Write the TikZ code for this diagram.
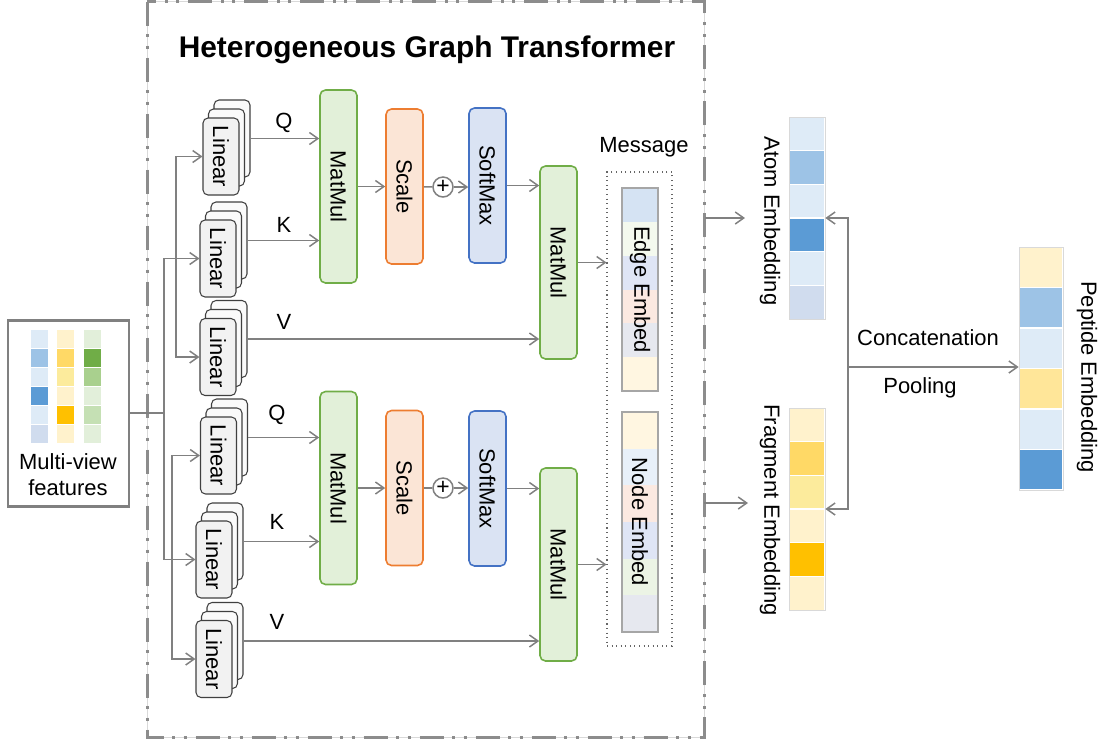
\documentclass[tikz,border=0pt]{standalone}
\usepackage{fontspec}
\setmainfont{Liberation Sans}
\usepackage{tikz}
\usetikzlibrary{arrows.meta}
\usepackage{xcolor}

% colores
\definecolor{arrgray}{HTML}{808080}
\definecolor{mmfill}{HTML}{E2F0D9}
\definecolor{mmline}{HTML}{70AD47}
\definecolor{scfill}{HTML}{FBE5D6}
\definecolor{scline}{HTML}{ED7D31}
\definecolor{smfill}{HTML}{DAE3F3}
\definecolor{smline}{HTML}{4472C4}
\definecolor{cA}{HTML}{DEEBF7}
\definecolor{cB}{HTML}{9DC3E6}
\definecolor{cC}{HTML}{5B9BD5}
\definecolor{cD}{HTML}{D0DCEE}
\definecolor{yA}{HTML}{FFF2CC}
\definecolor{yB}{HTML}{FFD966}
\definecolor{yC}{HTML}{FCEB9C}
\definecolor{yD}{HTML}{FFC000}
\definecolor{yE}{HTML}{FFE699}
\definecolor{gA}{HTML}{E2EFDA}
\definecolor{gB}{HTML}{70AD47}
\definecolor{gC}{HTML}{A9D08E}
\definecolor{gD}{HTML}{C5E0B4}
\definecolor{mBlue}{HTML}{D5E3F3}
\definecolor{mWhite}{HTML}{F4F9EE}
\definecolor{mLav}{HTML}{DFE5F5}
\definecolor{mPeach}{HTML}{FBE9E1}
\definecolor{mGray}{HTML}{E6E8EF}
\definecolor{mCream}{HTML}{FFF6E1}
\definecolor{mLblue}{HTML}{E8F0F9}
\definecolor{mGreen}{HTML}{ECF4E5}

\tikzset{
	every node/.style={font=\fontsize{12.5}{15}\selectfont},
	conn/.style={draw=arrgray, line width=0.85pt},
	flow/.style={conn, ->},
	linbox/.style={draw=black!75, fill=black!5, rounded corners=1mm, line width=0.6pt,
		minimum width=7.2mm, minimum height=15.4mm, inner sep=0pt},
	opbox/.style={rounded corners=1.1mm, line width=0.9pt, minimum width=7.4mm, inner sep=0pt},
	mmbox/.style={opbox, draw=mmline, fill=mmfill, minimum height=38.6mm},
	scbox/.style={opbox, draw=scline, fill=scfill, minimum height=31mm},
	smbox/.style={opbox, draw=smline, fill=smfill, minimum height=31mm},
	plusnode/.style={circle, draw=arrgray, line width=0.85pt, fill=white, minimum size=4mm,
		inner sep=0pt, text=black, font=\fontsize{13}{13}\selectfont},
	cellcol/.style={draw=black!15, line width=0.4pt, minimum width=7.2mm, inner sep=0pt},
	embcol/.style={draw=black!35, line width=0.9pt, minimum width=7.2mm, inner sep=0pt},
	hgtframe/.style={draw=black!45, line width=0.6mm,
		dash pattern=on 4.8mm off 1.7mm on 0.6mm off 1.7mm on 0.6mm off 1.8mm},
}

\begin{document}
\begin{tikzpicture}[x=0.2mm,y=-0.2mm,>={Straight Barb[length=1.7mm,width=2.4mm]}]
		\useasboundingbox (0,0) rectangle (1102,745);
		% marco
		\draw[black!15, line width=0.3pt] (147,1.5) rectangle (704,737);
		\draw[hgtframe] (147,1.5) rectangle (704,737);
		\node[font=\bfseries\fontsize{17}{20}\selectfont] (title) at (427,50) {Heterogeneous Graph Transformer};
		
		% entrada
		\node[draw=black!50, line width=1.7pt, minimum width=24.2mm, minimum height=37.2mm] (mv) at (68.5,413) {};
		\foreach \c [count=\i from 0] in {cA,cB,cA,cC,cA,cD}
		\filldraw[fill=\c, draw=white, line width=0.5pt] (30,329+19*\i) rectangle +(18,19);
		\foreach \c [count=\i from 0] in {yA,yB,yC,yA,yD,yA}
		\filldraw[fill=\c, draw=white, line width=0.5pt] (56,329+19*\i) rectangle +(18,19);
		\foreach \c [count=\i from 0] in {gA,gB,gC,gA,gD,gA}
		\filldraw[fill=\c, draw=white, line width=0.5pt] (83,329+19*\i) rectangle +(18,19);
		\node[align=center, font=\fontsize{12.5}{14.7}\selectfont] (mvtext) at (68,475) {Multi-view\\features};
		
		% capas lineales
		\foreach \n/\x/\y in {qa/221/156.5, ka/218/258.5, va/218/357, qb/218.5/455.5, kb/214/559.5, vb/214/659}
		{
			\node[linbox, fill=black!2] (\n3) at (\x+11,\y-18) {};
			\node[linbox, fill=black!2] (\n2) at (\x+5.5,\y-9) {};
			\node[linbox] (\n) at (\x,\y) {\rotatebox{-90}{Linear}};
		}
		
		% atencion, arriba
		\node[mmbox] (mma1) at (338.5,186.5) {\rotatebox{-90}{MatMul}};
		\node[scbox] (sca) at (404.5,186.5) {\rotatebox{-90}{Scale}};
		\node[plusnode] (plusa) at (443,187) {+};
		\node[smbox] (sma) at (487.5,185.5) {\rotatebox{-90}{SoftMax}};
		\node[mmbox] (mma2) at (558.5,262.5) {\rotatebox{-90}{MatMul}};
		
		% atencion, abajo
		\node[mmbox] (mmb1) at (338.5,488) {\rotatebox{-90}{MatMul}};
		\node[scbox] (scb) at (404.5,488) {\rotatebox{-90}{Scale}};
		\node[plusnode] (plusb) at (443,488) {+};
		\node[smbox] (smb) at (487.5,488.5) {\rotatebox{-90}{SoftMax}};
		\node[mmbox] (mmb2) at (558.5,564.5) {\rotatebox{-90}{MatMul}};
		
		% Q, K, V
		\node (lqa) at (284,123) {Q};
		\node (lka) at (284,225) {K};
		\node (lva) at (284,322) {V};
		\node (lqb) at (277,415) {Q};
		\node (lkb) at (277,522) {K};
		\node (lvb) at (277,622) {V};
		\draw[flow] (qa3.east) -- (qa3.east -| mma1.west);
		\draw[flow] (ka3.east) -- (ka3.east -| mma1.west);
		\draw[flow] (va3.east) -- (va3.east -| mma2.west);
		\draw[flow] (qb3.east) -- (qb3.east -| mmb1.west);
		\draw[flow] (kb3.east) -- (kb3.east -| mmb1.west);
		\draw[flow] (vb3.east) -- (vb3.east -| mmb2.west);
		
		\draw[flow] (mma1.east) -- (mma1.east -| sca.west);
		\draw[conn] (sca) -- (plusa);
		\draw[flow] (plusa) -- (plusa -| sma.west);
		\draw[flow] (sma.east) -- (sma.east -| mma2.west);
		\draw[flow] (mmb1.east) -- (mmb1.east -| scb.west);
		\draw[conn] (scb) -- (plusb);
		\draw[flow] (plusb) -- (plusb -| smb.west);
		\draw[flow] (smb.east) -- (smb.east -| mmb2.west);
		
		% ramas de la entrada
		\coordinate (split) at (164,413);
		\coordinate (fana) at (176,258.5);
		\coordinate (fanb) at (172,559.5);
		\draw[conn] (mv.east) -- (split);
		\draw[flow] (split) |- (ka.west);
		\draw[flow] (split) |- (kb.west);
		\draw[flow] (fana) |- (qa.west);
		\draw[flow] (fana) |- (va.west);
		\draw[flow] (fanb) |- (qb.west);
		\draw[flow] (fanb) |- (vb.west);
		
		% mensaje
		\node[draw=black!60, dotted, line width=0.6pt, minimum width=13mm, minimum height=94.8mm] (msg) at (639.5,409) {};
		\node (msglbl) at (644,147) {Message};
		\foreach \c [count=\i from 0] in {mBlue,mWhite,mLav,mPeach,mGray,mCream}
		\fill[\c] (622,188+33.83*\i) rectangle +(36,33.83);
		\foreach \c [count=\i from 0] in {mCream,mLblue,mPeach,mLav,mGreen,mGray}
		\fill[\c] (622,412+36.67*\i) rectangle +(36,36.67);
		\node[embcol, minimum height=40.6mm] (edge) at (640,289.5) {\rotatebox{-90}{Edge Embed}};
		\node[embcol, minimum height=44mm] (nodeemb) at (640,522) {\rotatebox{-90}{Node Embed}};
		\draw[flow] (mma2.east) -- (mma2.east -| msg.west);
		\draw[flow] (mmb2.east) -- (mmb2.east -| msg.west);
		
		% salidas
		\foreach \c [count=\i from 0] in {cA,cB,cA,cC,cA,cD}
		\filldraw[fill=\c, draw=white, line width=0.6pt] (789,117+33.67*\i) rectangle +(36,33.67);
		\foreach \c [count=\i from 0] in {yA,yB,yC,yA,yD,yA}
		\filldraw[fill=\c, draw=white, line width=0.6pt] (789,408+33.67*\i) rectangle +(36,33.67);
		\foreach \c [count=\i from 0] in {yA,cB,cA,yE,cA,cC}
		\filldraw[fill=\c, draw=white, line width=0.6pt] (1019,247+40.5*\i) rectangle +(44,40.5);
		\node[cellcol, minimum height=40.4mm] (atom) at (807,218) {};
		\node[cellcol, minimum height=40.4mm] (frag) at (807,509) {};
		\node[cellcol, minimum width=8.8mm, minimum height=48.6mm] (pep) at (1041,368.5) {};
		\node (atomlbl) at (770,221) {\rotatebox{-90}{Atom Embedding}};
		\node (fraglbl) at (770,510) {\rotatebox{-90}{Fragment Embedding}};
		\node (peplbl) at (1087,377) {\rotatebox{-90}{Peptide Embedding}};
		
		\coordinate (outa) at (705,218);
		\coordinate (ina) at (745,218);
		\coordinate (outb) at (704,503);
		\coordinate (inb) at (748,503);
		\draw[flow] (outa) -- (ina);
		\draw[flow] (outb) -- (inb);
		
		\coordinate (cat) at (848,367);
		\draw[flow] (cat) |- (atom.east);
		\draw[flow] (cat) |- (frag.east);
		\draw[flow] (cat) -- (cat -| pep.west);
		\node (catlbl) at (928,338) {Concatenation};
		\node (poollbl) at (920,388) {Pooling};
\end{tikzpicture}
\end{document}
